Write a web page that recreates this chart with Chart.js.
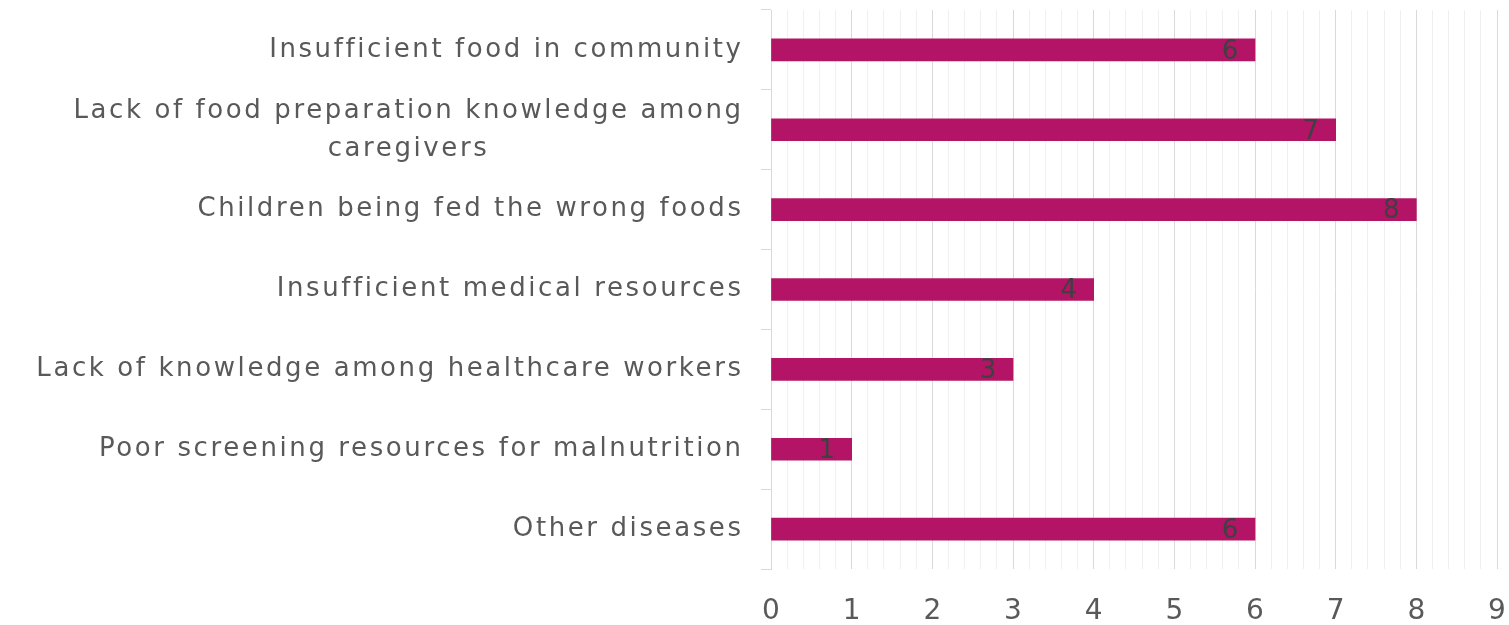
<!DOCTYPE html>
<html>
<head>
<meta charset="utf-8">
<script src="https://cdn.jsdelivr.net/npm/chart.js@4/dist/chart.umd.min.js"></script>
<style>
  html, body { margin: 0; padding: 0; background: #ffffff; }
  #wrap { width: 1509px; height: 625px; }
</style>
</head>
<body>
<div id="wrap"><canvas id="c" width="1509" height="625"></canvas></div>
<script>
const categories = [
  "Insufficient food in community",
  ["Lack of food preparation knowledge among", "caregivers"],
  "Children being fed the wrong foods",
  "Insufficient medical resources",
  "Lack of knowledge among healthcare workers",
  "Poor screening resources for malnutrition",
  "Other diseases"
];
const values = [6, 7, 8, 4, 3, 1, 6];
const xTickLabels = ["0", "1", "2", "3", "4", "5", "6", "7", "8", "9"];

const FONT = "'DejaVu Sans', sans-serif";
const AXIS_COLOR = "#595959";
const BAR_COLOR = "#B31466";

const isInt = v => Math.abs(v - Math.round(v)) < 1e-6;

const yLabelPlugin = {
  id: 'yLabels',
  afterDraw(chart) {
    const ctx = chart.ctx;
    const ys = chart.scales.y;
    const spacing = 2.6;
    const rightX = ys.right - 30 + spacing;
    ctx.save();
    ctx.font = "26px " + FONT;
    ctx.letterSpacing = spacing + 'px';
    ctx.fillStyle = AXIS_COLOR;
    ctx.textBaseline = 'middle';
    ctx.textAlign = 'center';
    const lh = 38;
    categories.forEach((lab, i) => {
      const lines = Array.isArray(lab) ? lab : [lab];
      const cy = ys.getPixelForValue(i);
      const maxW = Math.max(...lines.map(l => ctx.measureText(l).width));
      const cx = rightX - maxW / 2;
      lines.forEach((l, k) => {
        const y = cy + (k - (lines.length - 1) / 2) * lh;
        ctx.fillText(l, cx, y);
      });
    });
    ctx.restore();
  }
};

const dataLabelPlugin = {
  id: 'dataLabels',
  afterDatasetsDraw(chart) {
    const ctx = chart.ctx;
    const meta = chart.getDatasetMeta(0);
    ctx.save();
    ctx.font = "26px " + FONT;
    ctx.fillStyle = "#404040";
    ctx.textAlign = 'center';
    ctx.textBaseline = 'middle';
    meta.data.forEach((el, i) => {
      ctx.fillText(String(values[i]), el.x - 25, el.y + 2);
    });
    ctx.restore();
  }
};

new Chart(document.getElementById('c'), {
  type: 'bar',
  data: {
    labels: categories,
    datasets: [{
      data: values,
      backgroundColor: BAR_COLOR,
      barThickness: 22,
      borderWidth: 0
    }]
  },
  options: {
    indexAxis: 'y',
    responsive: false,
    animation: false,
    layout: { padding: { top: 10, right: 0, left: 0, bottom: 0 } },
    plugins: { legend: { display: false }, tooltip: { enabled: false } },
    scales: {
      x: {
        min: 0,
        max: 9,
        afterFit(s) { s.height = 56; s.paddingRight = 12; s.paddingLeft = 0; },
        border: { display: false },
        grid: {
          drawTicks: false,
          color: c => (c.tick && isInt(c.tick.value)) ? '#d9d9d9' : '#f0f0f0',
          lineWidth: 1
        },
        ticks: {
          stepSize: 0.2,
          autoSkip: false,
          maxRotation: 0,
          padding: 26,
          color: AXIS_COLOR,
          font: { family: FONT, size: 28 },
          callback: v => isInt(v) ? xTickLabels[Math.round(v)] : ''
        }
      },
      y: {
        afterFit(s) { s.width = 771; },
        border: { display: true, color: '#d9d9d9' },
        grid: {
          drawOnChartArea: false,
          drawTicks: true,
          tickLength: 10,
          color: '#d9d9d9'
        },
        ticks: { display: false }
      }
    }
  },
  plugins: [yLabelPlugin, dataLabelPlugin]
});
</script>
</body>
</html>
